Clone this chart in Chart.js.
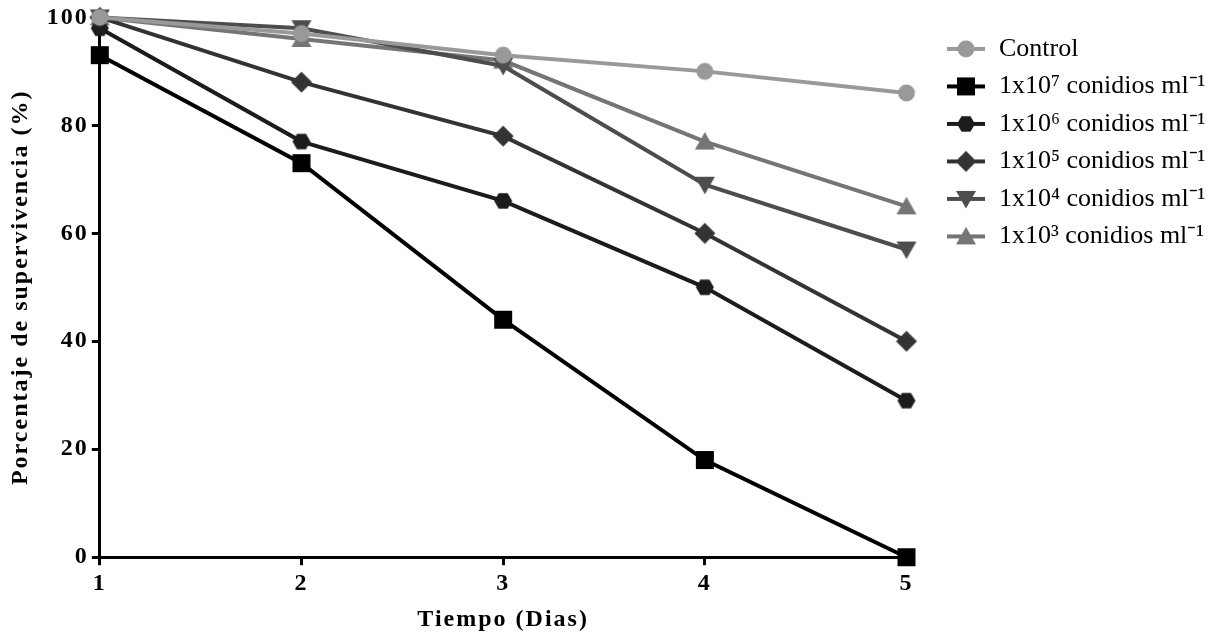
<!DOCTYPE html>
<html>
<head>
<meta charset="utf-8">
<script src="https://cdn.jsdelivr.net/npm/chart.js@4"></script>
<style>
  html, body { margin: 0; padding: 0; background: #fff; }
  #wrap { width: 1225px; height: 636px; }
</style>
</head>
<body>
<div id="wrap"><canvas id="chart"></canvas></div>
<script>
// data
const days = [1, 2, 3, 4, 5];
const yTicks = [0, 20, 40, 60, 80, 100];
const serieLabels = [
    'Control',
    '1x10\u2077 conidios ml\u207B\u00B9',
    '1x10\u2076 conidios ml\u207B\u00B9',
    '1x10\u2075 conidios ml\u207B\u00B9',
    '1x10\u2074 conidios ml\u207B\u00B9',
    '1x10\u00B3 conidios ml\u207B\u00B9'
];
const control = [100, 97, 93, 90, 86];
const c1e7 = [93, 73, 44, 18, 0];
const c1e6 = [98, 77, 66, 50, 29];
const c1e5 = [100, 88, 78, 60, 40];
const c1e4 = [100, 98, 91, 69, 57];
const c1e3 = [100, 96, 92, 77, 65];

const series = [control, c1e7, c1e6, c1e5, c1e4, c1e3];
const colors = ['#999999', '#000000', '#1c1c1c', '#333333', '#4d4d4d', '#757575'];
const shapes = ['circle', 'square', 'hexagon', 'diamond', 'triangleDown', 'triangle'];

const serif = "'Liberation Serif', 'Times New Roman', serif";
const boldSpacing = '2px';

function drawShape(ctx, shape, x, y) {
    ctx.beginPath();
    switch (shape) {
        case 'circle':
            ctx.arc(x, y, 8.5, 0, 2 * Math.PI);
            break;
        case 'square':
            ctx.rect(x - 9, y - 9, 18, 18);
            break;
        case 'hexagon':
            for (let i = 0; i < 6; i++) {
                let a = i * Math.PI / 3;
                let px = x + 9 * Math.cos(a), py = y + 9 * Math.sin(a);
                if (i === 0) ctx.moveTo(px, py); else ctx.lineTo(px, py);
            }
            ctx.closePath();
            break;
        case 'diamond':
            ctx.moveTo(x, y - 10.5); ctx.lineTo(x + 10.5, y); ctx.lineTo(x, y + 10.5); ctx.lineTo(x - 10.5, y);
            ctx.closePath();
            break;
        case 'triangle':
            ctx.moveTo(x, y - 9.5); ctx.lineTo(x + 10, y + 8); ctx.lineTo(x - 10, y + 8);
            ctx.closePath();
            break;
        case 'triangleDown':
            ctx.moveTo(x, y + 9.5); ctx.lineTo(x + 10, y - 8); ctx.lineTo(x - 10, y - 8);
            ctx.closePath();
            break;
    }
    ctx.fill();
}

// chart marker, or legend symbol (line + marker, with an empty gap on its left)
function makeMarker(shape, color, withLine) {
    let c = document.createElement('canvas');
    c.width = withLine ? 68 : 24;
    c.height = 24;
    let ctx = c.getContext('2d');
    let cx = c.width / 2;
    if (withLine) {
        cx = 48;
        ctx.strokeStyle = color;
        ctx.lineWidth = 4;
        ctx.beginPath();
        ctx.moveTo(29, 12);
        ctx.lineTo(67, 12);
        ctx.stroke();
    }
    ctx.fillStyle = color;
    drawShape(ctx, shape, cx, 12);
    return c;
}

// bold texts of the figure are letter-spaced, the legend is not
const spacingPlugin = {
    id: 'spacing',
    beforeLayout: function(chart) {
        chart.ctx.letterSpacing = boldSpacing;
        let lg = chart.legend;
        if (lg && !lg._noSpacing) {
            lg._noSpacing = true;
            ['fit', 'draw'].forEach(function(fn) {
                let orig = lg[fn];
                lg[fn] = function() {
                    chart.ctx.letterSpacing = '0px';
                    let r = orig.apply(lg, arguments);
                    chart.ctx.letterSpacing = boldSpacing;
                    return r;
                };
            });
        }
    },
    beforeDraw: function(chart) {
        chart.ctx.letterSpacing = boldSpacing;
    }
};

let dataset = [];
series.forEach(function(item, index) {
    dataset.push({
        label: serieLabels[index],
        data: item.map(function(v, i) { return {x: days[i], y: v}; }),
        borderColor: colors[index],
        backgroundColor: colors[index],
        borderWidth: 4,
        pointStyle: makeMarker(shapes[index], colors[index], false),
        legendStyle: makeMarker(shapes[index], colors[index], true),
        pointRadius: 9,
        clip: false
    });
});

new Chart(document.getElementById('chart'), {
    type: 'line',
    data: { datasets: dataset },
    plugins: [spacingPlugin],
    options: {
        responsive: true,
        maintainAspectRatio: false,
        animation: false,
        layout: { padding: { top: 6, left: 2, right: 17, bottom: 0 } },
        plugins: {
            tooltip: { enabled: false },
            legend: {
                position: 'right',
                align: 'start',
                title: { display: true, text: ' ', padding: 2 },
                labels: {
                    usePointStyle: true,
                    pointStyleWidth: 68,
                    padding: 11.5,
                    color: '#000',
                    font: { family: serif, size: 26 },
                    generateLabels: function(chart) {
                        return Chart.defaults.plugins.legend.labels.generateLabels(chart).map(function(l) {
                            l.pointStyle = chart.data.datasets[l.datasetIndex].legendStyle;
                            return l;
                        });
                    }
                }
            }
        },
        scales: {
            x: {
                type: 'linear',
                min: 1,
                max: 5,
                afterBuildTicks: function(axis) { axis.ticks = days.map(function(v) { return {value: v}; }); },
                ticks: { color: '#000', font: { family: serif, size: 24, weight: 'bold' }, padding: 4 },
                grid: { drawOnChartArea: false, tickLength: 8, color: '#000', lineWidth: 3 },
                border: { color: '#000', width: 3 },
                title: { display: true, text: 'Tiempo (Dias)', color: '#000', font: { family: serif, size: 24, weight: 'bold', lineHeight: 1.0 }, padding: { top: 6 } }
            },
            y: {
                min: 0,
                max: 100,
                afterBuildTicks: function(axis) { axis.ticks = yTicks.map(function(v) { return {value: v}; }); },
                ticks: { color: '#000', font: { family: serif, size: 24, weight: 'bold' }, padding: 3 },
                grid: { drawOnChartArea: false, tickLength: 8, color: '#000', lineWidth: 3 },
                border: { color: '#000', width: 3 },
                title: { display: true, text: 'Porcentaje de supervivencia (%)', color: '#000', font: { family: serif, size: 24, weight: 'bold' }, padding: { bottom: 9 } }
            }
        }
    }
});
</script>
</body>
</html>
